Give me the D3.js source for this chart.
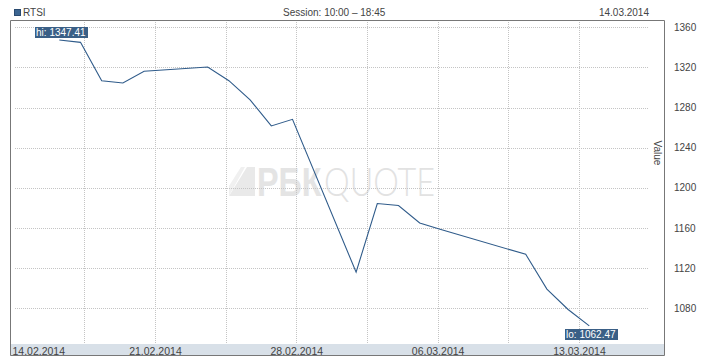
<!DOCTYPE html>
<html><head><meta charset="utf-8">
<script src="https://cdn.jsdelivr.net/npm/d3@7"></script>
<style>html,body{margin:0;padding:0;background:#fff;} svg{display:block;font-family:"Liberation Sans",Arial,sans-serif;}</style>
</head><body>
<svg id="c" width="718" height="360"></svg>
<script>
// ---- data ----
const seriesName = "RTSI";
const dates = ["2014-02-17","2014-02-18","2014-02-19","2014-02-20","2014-02-21",
  "2014-02-24","2014-02-25","2014-02-26","2014-02-27","2014-02-28",
  "2014-03-03","2014-03-04","2014-03-05","2014-03-06","2014-03-07",
  "2014-03-11","2014-03-12","2014-03-13","2014-03-14"];
const values = [1347.41,1345.0,1306.8,1304.5,1316.2,
  1320.4,1306.8,1287.6,1261.7,1268.3,
  1116.0,1184.4,1182.4,1165.0,1158.6,
  1133.8,1099.2,1078.8,1062.47];
const yTicks = [1080,1120,1160,1200,1240,1280,1320,1360];
const xTickLabels = ["14.02.2014","21.02.2014","28.02.2014","06.03.2014","13.03.2014"];
const gridStart = "2014-02-14T20:52";
const gridStepHours = 80;
const gridCount = 9;
const sessionText = "Session: 10:00 \u2013 18:45";
const dateText = "14.03.2014";
const yTitle = "Value";

// ---- layout ----
const L = 10.5, T = 20.5, R = 664.5, B = 355.5, bandTop = 344;
const lineColor = "#2f5b8a", labelBg = "#3a5f86";
const svg = d3.select("#c");
const parse = d3.utcParse("%Y-%m-%d");
const parseT = d3.utcParse("%Y-%m-%dT%H:%M");
const data = dates.map((d,i)=>({date:parse(d), value:values[i]}));

const x = d3.scaleUtc().domain([data[0].date, data[data.length-1].date]).range([59.3, 589.3]);
const y = d3.scaleLinear().domain([1080,1360]).range([308.3, 27.3]);

// axis band
svg.append("rect").attr("x",L).attr("y",bandTop).attr("width",R-L).attr("height",B-bandTop).attr("fill","#d8e0e8");

// watermark (one text element)
const wm = svg.append("g");
wm.append("path").attr("d","M229,196 L247,167 L255,167 L255,196 Z").attr("fill","#e9e9e9");
wm.append("path").attr("d","M229,196 L229,186 L241,167 L245,167 Z").attr("fill","#f0f0f0");
const wt = wm.append("text").attr("font-size",40);
wt.append("tspan").attr("font-weight","bold").attr("fill","#e4e4e4").text("РБК");
wt.append("tspan").attr("dx",3).attr("font-family","Lato, 'Liberation Sans', sans-serif").attr("font-weight",300).attr("fill","#e2e2e2").text("QUOTE");
const wNat = wt.node().getComputedTextLength() + 3;
wt.attr("transform",`translate(257,196) scale(${178/wNat},1)`);

// grid
const g0 = parseT(gridStart);
const gridDates = d3.range(gridCount).map(i=>d3.utcHour.offset(g0, i*gridStepHours));
svg.append("g").selectAll("line").data(gridDates.slice(1)).join("line")
  .attr("x1",d=>Math.floor(x(d))+0.5).attr("x2",d=>Math.floor(x(d))+0.5)
  .attr("y1",22).attr("y2",bandTop)
  .attr("stroke","#c4c4c4").attr("stroke-dasharray","1,1");
svg.append("g").selectAll("line").data(yTicks).join("line")
  .attr("x1",15).attr("x2",649)
  .attr("y1",d=>Math.round(y(d))+0.5).attr("y2",d=>Math.round(y(d))+0.5)
  .attr("stroke","#c4c4c4").attr("stroke-dasharray","1,1");

// frame
svg.append("path").attr("d",`M${L},${T}H${R}V${B}H${L}Z`).attr("fill","none").attr("stroke","#777");

// x labels
svg.append("g").selectAll("text").data(xTickLabels).join("text")
  .attr("x",(d,i)=> i===0 ? L+2 : x(gridDates[i*2]))
  .attr("text-anchor",(d,i)=> i===0 ? "start":"middle")
  .attr("y",354.5).attr("font-size",10.5).attr("fill","#444").text(d=>d);

// y labels
svg.append("g").selectAll("text").data(yTicks).join("text")
  .attr("x",674).attr("y",d=>y(d)+3.5).attr("font-size",10).attr("fill","#444").text(d=>d);

// y title
svg.append("text").attr("transform","translate(654,153) rotate(90)").attr("text-anchor","middle")
  .attr("font-size",10).attr("fill","#444").text(yTitle);

// header
svg.append("rect").attr("x",14.5).attr("y",9.5).attr("width",6).attr("height",6).attr("fill","#3c6591").attr("stroke","#2a4a70");
svg.append("text").attr("x",23).attr("y",16).attr("font-size",10).attr("fill","#444").text(seriesName);
svg.append("text").attr("x",283).attr("y",16).attr("font-size",10).attr("fill","#444").text(sessionText);
svg.append("text").attr("x",649).attr("y",16).attr("text-anchor","end").attr("font-size",10).attr("fill","#444").text(dateText);

// line
svg.append("path").datum(data)
  .attr("d", d3.line().x(d=>x(d.date)).y(d=>y(d.value)))
  .attr("fill","none").attr("stroke",lineColor).attr("stroke-width",1.1);

// hi / lo labels
const hi = data[d3.maxIndex(data,d=>d.value)], lo = data[d3.minIndex(data,d=>d.value)];
function tag(pt, label, above){
  const g = svg.append("g");
  const t = g.append("text").attr("font-size",10).attr("fill","#fff").attr("text-anchor","middle").text(label);
  const w = t.node().getComputedTextLength() + 3, h = 11;
  const cx = x(pt.date) + 1.5;
  const top = above ? y(pt.value) - 2 - h : y(pt.value) + 3;
  g.insert("rect","text").attr("x",Math.round(cx - w/2)).attr("y",Math.round(top)).attr("width",Math.round(w)).attr("height",h).attr("fill",labelBg);
  t.attr("x",cx).attr("y",Math.round(top)+9);
}
tag(hi, "hi: " + d3.format(".2f")(hi.value), true);
tag(lo, "lo: " + d3.format(".2f")(lo.value), false);
</script>
</body></html>
